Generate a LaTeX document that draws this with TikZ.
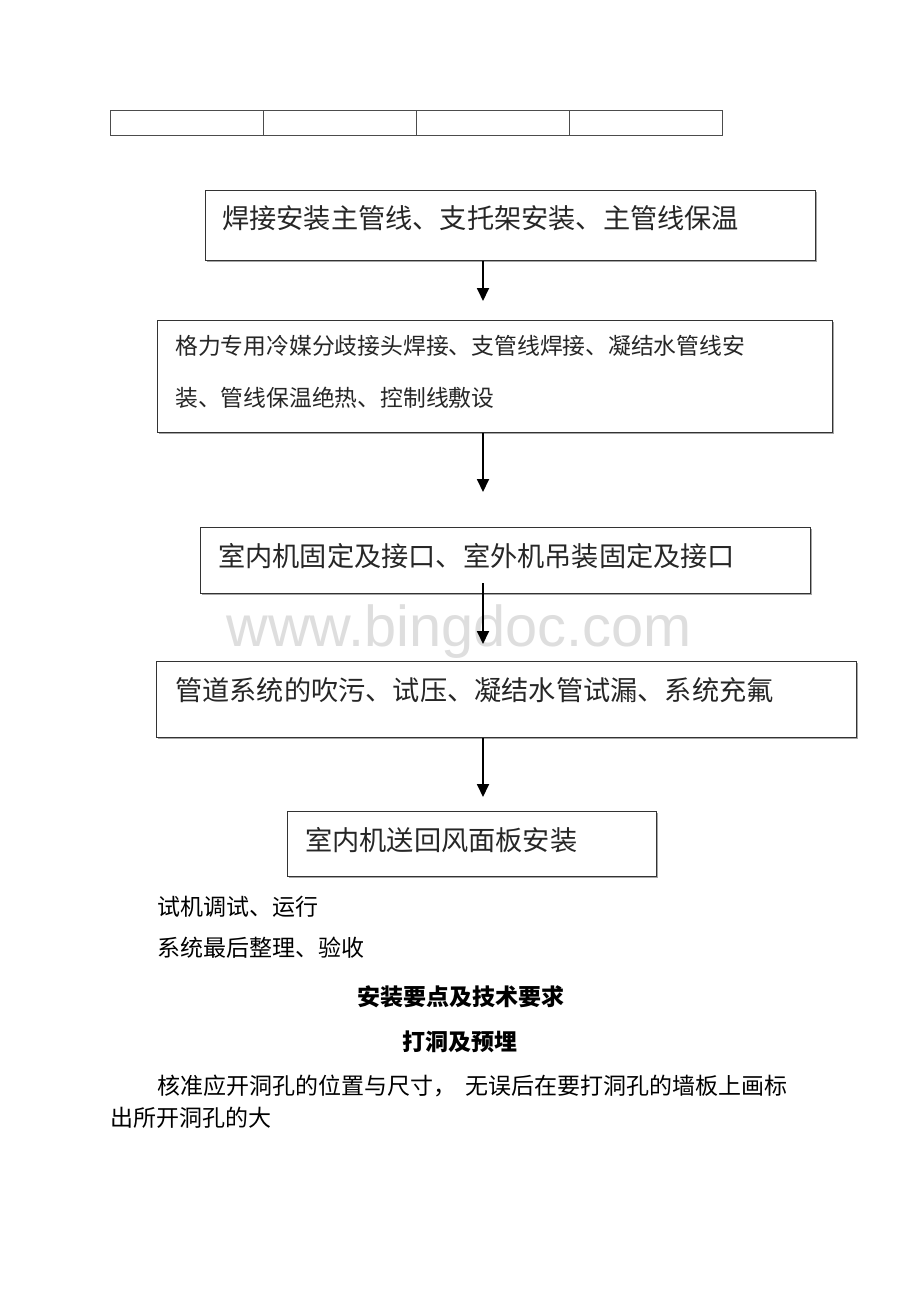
\documentclass[tikz,border=0pt]{standalone}
\usepackage{fontspec}
\newfontfamily\cjk{Noto Sans CJK SC}
\newfontfamily\wm{Liberation Sans}
\usetikzlibrary{arrows.meta,calc,shadows}
\tikzset{
  box/.style={draw=black!80, line width=1.3pt, fill=white, anchor=north west, inner sep=0pt,
    general shadow={shadow xshift=1.2pt, shadow yshift=-1.2pt, fill=black!35}},
  lbl/.style={anchor=west, inner sep=0pt, font=\cjk\fontsize{27.2}{32}\selectfont, text=black!85},
  lbls/.style={anchor=west, inner sep=0pt, font=\cjk\fontsize{22.8}{27}\selectfont, text=black!85},
  body/.style={anchor=west, inner sep=0pt, font=\cjk\fontsize{23}{27}\selectfont, text=black},
  head/.style={anchor=center, inner sep=0pt, font=\cjk\bfseries\fontsize{23}{27}\selectfont, text=black},
  arr/.style={line width=1.8pt, -{Triangle[width=12pt,length=13pt]}},
  cell/.style={draw=black!70, line width=1pt, anchor=north west, minimum width=153pt, minimum height=25pt, inner sep=0pt}
}
\begin{document}
\begin{tikzpicture}[x=1pt,y=-1pt]
\useasboundingbox[fill=white] (0,0) rectangle (920,1302);
% table
\node[cell] (c1) at (110,110) {};
\node[cell] (c2) at (263,110) {};
\node[cell] (c3) at (416,110) {};
\node[cell] (c4) at (569,110) {};
% watermark
\node[font=\wm\fontsize{57.7}{58}\selectfont, text=black!13, inner sep=0pt] (wm) at (459,632) {www.bingdoc.com};
% boxes
\node[box, minimum width=610pt, minimum height=70pt] (b1) at (205,190) {};
\node[lbl] (t1) at (222,218) {焊接安装主管线、支托架安装、主管线保温};
\node[box, minimum width=675pt, minimum height=112pt] (b2) at (157,320) {};
\node[lbls] (t2a) at (175,346) {格力专用冷媒分歧接头焊接、支管线焊接、凝结水管线安};
\node[lbls] (t2b) at (175,398) {装、管线保温绝热、控制线敷设};
\node[box, minimum width=610pt, minimum height=66pt] (b3) at (200,527) {};
\node[lbl] (t3) at (218,556) {室内机固定及接口、室外机吊装固定及接口};
\node[box, minimum width=700pt, minimum height=76pt] (b4) at (156,661) {};
\node[lbl] (t4) at (175,690) {管道系统的吹污、试压、凝结水管试漏、系统充氟};
\node[box, minimum width=369pt, minimum height=65pt] (b5) at (287,811) {};
\node[lbl] (t5) at (305,840) {室内机送回风面板安装};
% arrows
\coordinate (e1) at (483,301);
\coordinate (e2) at (483,492);
\coordinate (e3) at (483,644);
\coordinate (e4) at (483,797);
\draw[arr] (b1.south -| e1) -- (e1);
\draw[arr] (b2.south -| e2) -- (e2);
\draw[arr] ($(b3.south -| e3)+(0,-11)$) -- (e3);
\draw[arr] (b4.south -| e4) -- (e4);
% body text
\node[body] (p1) at (157,907) {试机调试、运行};
\node[body] (p2) at (157,948) {系统最后整理、验收};
\node[head] (h1) at (461,997) {安装要点及技术要求};
\node[head] (h2) at (460,1042) {打洞及预埋};
\node[body] (p3) at (157,1086) {核准应开洞孔的位置与尺寸，\hspace{9pt}无误后在要打洞孔的墙板上画标};
\node[body] (p4) at (110,1118) {出所开洞孔的大};
\end{tikzpicture}
\end{document}
